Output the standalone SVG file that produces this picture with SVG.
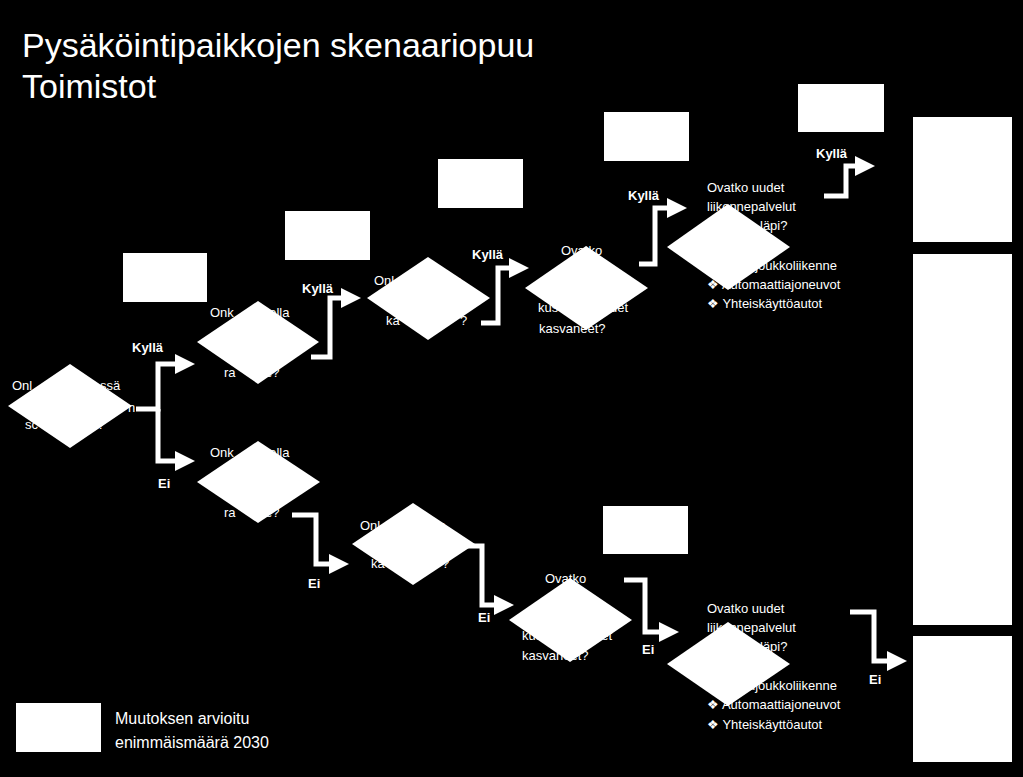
<svg xmlns="http://www.w3.org/2000/svg" width="1023" height="777" viewBox="0 0 1023 777">
<defs>
<marker id="ah" markerWidth="4" markerHeight="4" refX="1" refY="2" orient="auto" markerUnits="strokeWidth"><path d="M0,0 L4,2 L0,4 Z" fill="#fff"/></marker>
<style>
.t{font-family:"Liberation Sans",Arial,sans-serif;fill:#fff;font-size:13px}
.b{font-family:"Liberation Sans",Arial,sans-serif;fill:#fff;font-size:13px;font-weight:bold}
.d,.r{fill:#fff}
.c{fill:none;stroke:#fff;stroke-width:5;marker-end:url(#ah)}
</style>
</defs>
<rect width="1023" height="777" fill="#000"/>
<g id="title">
<text x="22" y="57" style="font-family:'Liberation Sans',Arial,sans-serif;font-size:34px;fill:#fff">Pysäköintipaikkojen skenaariopuu</text>
<text x="22" y="98" style="font-family:'Liberation Sans',Arial,sans-serif;font-size:34px;fill:#fff">Toimistot</text>
</g>
<g id="texts">
<text class="t" x="12" y="390">Onl</text><text class="t" x="100" y="390">ssä</text><text class="t" x="128" y="412">n</text><text class="t" x="25" y="429">sc</text><text class="t" x="90" y="429">e?</text>
<text class="t" x="210" y="317">Onk</text><text class="t" x="262" y="317">eella</text><text class="t" x="224" y="377">ra</text><text class="t" x="265" y="377">e?</text>
<text class="t" x="210" y="457">Onk</text><text class="t" x="262" y="457">eella</text><text class="t" x="224" y="517">ra</text><text class="t" x="265" y="517">e?</text>
<text class="t" x="374" y="285">Onl</text><text class="t" x="442" y="285">ilyn</text><text class="t" x="386" y="325">ka</text><text class="t" x="460" y="325">?</text>
<text class="t" x="360" y="530">Onl</text><text class="t" x="426" y="530">ilyn</text><text class="t" x="371" y="568">ka</text><text class="t" x="442" y="568">?</text>
<text class="t" x="561" y="255">Ovatko</text><text class="t" x="538" y="312">kus</text><text class="t" x="610" y="312">det</text><text class="t" x="539" y="333">kasvaneet?</text>
<text class="t" x="545" y="583">Ovatko</text><text class="t" x="522" y="640">kus</text><text class="t" x="594" y="640">det</text><text class="t" x="522" y="660">kasvaneet?</text>
<text class="t" x="707" y="192">Ovatko uudet</text><text class="t" x="707" y="211">liikennepalvelut</text><text class="t" x="760" y="230">läpi?</text>
<text class="t" x="748" y="270">ujoukkoliikenne</text><text class="t" x="707" y="289">❖ Automaattiajoneuvot</text><text class="t" x="707" y="308">❖ Yhteiskäyttöautot</text>
<text class="t" x="707" y="613">Ovatko uudet</text><text class="t" x="707" y="632">liikennepalvelut</text><text class="t" x="760" y="651">läpi?</text>
<text class="t" x="748" y="690">ujoukkoliikenne</text><text class="t" x="707" y="709">❖ Automaattiajoneuvot</text><text class="t" x="707" y="729">❖ Yhteiskäyttöautot</text>
</g>
<g id="connectors">
<path class="c" d="M136,409 H158 V364 H180"/>
<path class="c" d="M158,409 V461 H180"/>
<path class="c" d="M311,357 H330 V298 H346"/>
<path class="c" d="M481,323 H498 V268 H514"/>
<path class="c" d="M639,264 H655 V208 H672"/>
<path class="c" d="M824,196 H846 V166 H860"/>
<path class="c" d="M292,515 H316 V564 H334"/>
<path class="c" d="M458,546 H482 V605 H499"/>
<path class="c" d="M624,580 H645 V632 H664"/>
<path class="c" d="M850,612 H874 V661 H892"/>
</g>
<g id="labels">
<text class="b" x="132" y="352">Kyllä</text><text class="b" x="158" y="488">Ei</text>
<text class="b" x="302" y="293">Kyllä</text><text class="b" x="472" y="259">Kyllä</text>
<text class="b" x="628" y="200">Kyllä</text><text class="b" x="816" y="158">Kyllä</text>
<text class="b" x="308" y="588">Ei</text><text class="b" x="478" y="622">Ei</text>
<text class="b" x="642" y="654">Ei</text><text class="b" x="869" y="684">Ei</text>
</g>
<g id="diamonds">
<polygon id="d1" class="d" points="8,406 70,364 132,406 70,448"/>
<polygon id="d2" class="d" points="197,342 258,301 319,342 258,384"/>
<polygon id="d3" class="d" points="367,298 428,257 490,298 428,340"/>
<polygon id="d4" class="d" points="525,288 586,246 648,288 586,330"/>
<polygon id="d5" class="d" points="667,247 728,204 790,247 728,290"/>
<polygon id="d6" class="d" points="197,482 258,441 320,482 258,523"/>
<polygon id="d7" class="d" points="352,544 413,503 475,544 413,585"/>
<polygon id="d8" class="d" points="509,620 570,578 632,620 570,662"/>
<polygon id="d9" class="d" points="667,664 728,622 790,664 728,706"/>
</g>
<g id="boxes">
<rect class="r" x="123" y="253" width="84" height="49"/>
<rect class="r" x="285" y="211" width="85" height="49"/>
<rect class="r" x="438" y="159" width="85" height="49"/>
<rect class="r" x="604" y="112" width="85" height="49"/>
<rect class="r" x="798" y="84" width="86" height="48"/>
<rect class="r" x="603" y="506" width="85" height="48"/>
<rect class="r" x="913" y="117" width="99" height="125"/>
<rect class="r" x="913" y="254" width="99" height="371"/>
<rect class="r" x="913" y="636" width="99" height="126"/>
</g>
<g id="legend">
<rect class="r" x="16" y="703" width="85" height="49"/>
<text x="115" y="724" style="font-family:'Liberation Sans',Arial,sans-serif;font-size:16px;fill:#fff">Muutoksen arvioitu</text>
<text x="115" y="748" style="font-family:'Liberation Sans',Arial,sans-serif;font-size:16px;fill:#fff">enimmäismäärä 2030</text>
</g>
</svg>
